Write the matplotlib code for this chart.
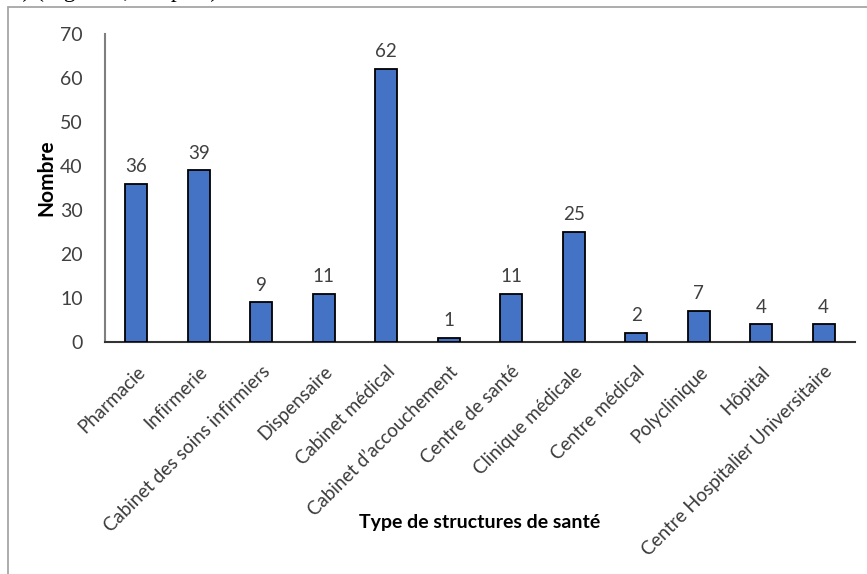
import matplotlib.pyplot as plt
from matplotlib.patches import Rectangle

# Nombre de structures de santé par type
categories = [
    "Pharmacie", "Infirmerie", "Cabinet des soins infirmiers", "Dispensaire",
    "Cabinet médical", "Cabinet d\u2019accouchement", "Centre de santé",
    "Clinique médicale", "Centre médical", "Polyclinique", "Hôpital",
    "Centre Hospitalier Universitaire",
]
counts = [36, 39, 9, 11, 62, 1, 11, 25, 2, 7, 4, 4]
yticks = [0, 10, 20, 30, 40, 50, 60, 70]

plt.rcParams['font.family'] = ['Lato', 'DejaVu Sans']

fig = plt.figure(figsize=(8.67, 5.74), dpi=100)
ax = fig.add_axes([0.121, 0.404, 0.865, 0.537])

x = range(len(categories))
bars = ax.bar(x, counts, width=0.35, color='#4472C4', edgecolor='black', linewidth=1.3, zorder=3)

for b, v in zip(bars, counts):
    ax.text(b.get_x() + b.get_width() / 2, v + 2.0, str(v), ha='center', va='bottom',
            fontsize=13.5, color='#404040')

ax.set_xlim(-0.5, len(categories) - 0.5)
ax.set_ylim(0, 70)
ax.set_yticks(yticks)
ax.set_xticks(list(x))
ax.set_xticklabels(categories, rotation=45, ha='right', rotation_mode='anchor',
                   fontsize=13.5, color='#3a3a3a')
ax.tick_params(axis='y', length=0, pad=16, labelsize=14, labelcolor='#404040')
ax.tick_params(axis='x', length=0, pad=15)

for s in ('top', 'right'):
    ax.spines[s].set_visible(False)
ax.spines['left'].set_color('#7f7f7f')
ax.spines['left'].set_linewidth(1.5)
ax.spines['bottom'].set_color('#333333')
ax.spines['bottom'].set_linewidth(1.5)

fig.text(0.053, 0.69, 'Nombre', rotation=90, ha='center', va='center',
         fontsize=15, fontweight='bold', color='black')
fig.text(0.553, 0.09, 'Type de structures de santé', ha='center', va='center',
         fontsize=14, fontweight='bold', color='black')

# cadre autour de la figure et ligne de texte du document au-dessus
fig.patches.append(Rectangle((8 / 867, -0.05), 1.2, 1.05 - 7 / 574, transform=fig.transFigure,
                             fill=False, edgecolor='#a6a6a6', linewidth=1.3))
fig.text(0.0, 1.0 + 3 / 574, 'ue) (Figure 1, ci-après).', ha='left', va='baseline',
         fontsize=17, family='Liberation Serif', color='black')

fig.savefig('out.png', dpi=100)
